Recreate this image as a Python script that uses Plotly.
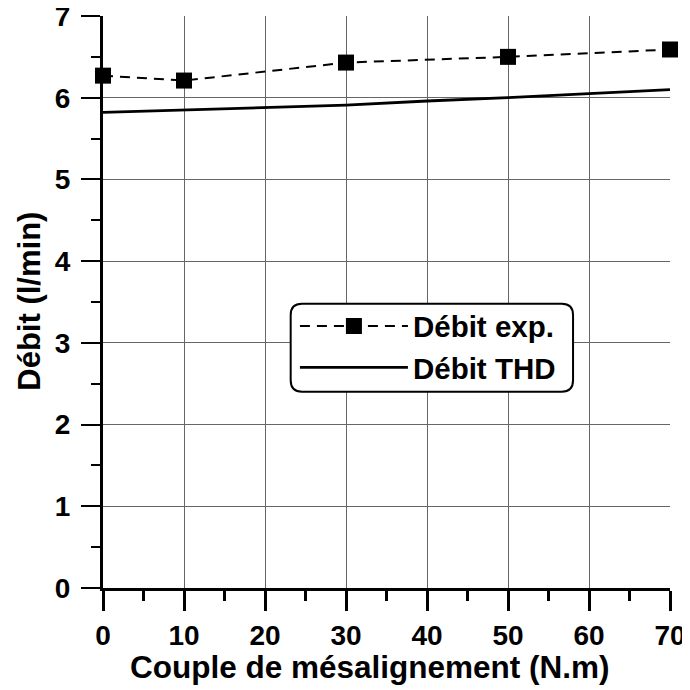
import plotly.graph_objects as go

couple = [0, 10, 30, 50, 70]
debit_exp = [6.27, 6.21, 6.43, 6.50, 6.59]
couple_thd = [0, 10, 20, 30, 40, 50, 60, 70]
debit_thd = [5.82, 5.85, 5.88, 5.91, 5.96, 6.00, 6.05, 6.10]
x_ticks = [0, 10, 20, 30, 40, 50, 60, 70]
y_ticks = [0, 1, 2, 3, 4, 5, 6, 7]

FONT = "Liberation Sans, Arial, sans-serif"

fig = go.Figure()
fig.add_trace(go.Scatter(
    x=couple, y=debit_exp, name="Débit exp.", mode="lines+markers",
    line=dict(color="black", width=2, dash="10px,7px"),
    marker=dict(symbol="square", size=16, color="black"),
    cliponaxis=False))
fig.add_trace(go.Scatter(
    x=couple_thd, y=debit_thd, name="Débit THD", mode="lines",
    line=dict(color="black", width=2.8), cliponaxis=False))

# rounded legend box
x0, x1, y0, y1 = 0.331, 0.829, 0.343, 0.497
rx, ry = 0.02, 0.02
path = (f"M {x0+rx},{y0} L {x1-rx},{y0} Q {x1},{y0} {x1},{y0+ry} "
        f"L {x1},{y1-ry} Q {x1},{y1} {x1-rx},{y1} L {x0+rx},{y1} "
        f"Q {x0},{y1} {x0},{y1-ry} L {x0},{y0+ry} Q {x0},{y0} {x0+rx},{y0} Z")
fig.add_shape(type="path", path=path, xref="paper", yref="paper",
              line=dict(color="black", width=2), fillcolor="white", layer="above")

fig.add_annotation(text="Couple de mésalignement (N.m)", xref="paper", yref="paper",
                   x=0.471, y=-0.138, showarrow=False, xanchor="center", yanchor="middle",
                   font=dict(size=31.5, family=FONT, color="black", weight="bold"))
fig.add_annotation(text="Débit (l/min)", xref="paper", yref="paper",
                   x=-0.129, y=0.502, showarrow=False, textangle=-90,
                   xanchor="center", yanchor="middle",
                   font=dict(size=31, family=FONT, color="black", weight="bold"))

fig.update_layout(
    width=690, height=690,
    margin=dict(l=95, r=28, t=8, b=110),
    plot_bgcolor="white", paper_bgcolor="white",
    font=dict(family=FONT, color="black"),
    showlegend=True,
    legend=dict(x=0.3385, y=0.503, xanchor="left", yanchor="top",
                bgcolor="rgba(0,0,0,0)", borderwidth=0,
                font=dict(size=29.5, family=FONT, color="black", weight="bold"),
                itemwidth=108, tracegroupgap=0),
    xaxis=dict(range=[0, 70], tickvals=x_ticks, ticks="outside", ticklen=20, tickwidth=3,
               tickcolor="black", showline=True, linecolor="black", linewidth=3,
               showgrid=True, gridcolor="#666666", gridwidth=1, zeroline=False, automargin=False,
               ticklabeloverflow="allow",
               tickfont=dict(size=28, family=FONT, weight="bold"), ticklabelstandoff=0,
               minor=dict(dtick=5, ticks="outside", ticklen=10, tickwidth=3, tickcolor="black", showgrid=False)),
    yaxis=dict(range=[0, 7], tickvals=y_ticks, ticks="outside", ticklen=19, tickwidth=2,
               tickcolor="black", showline=True, linecolor="black", linewidth=3,
               showgrid=True, gridcolor="#666666", gridwidth=1, zeroline=False, automargin=False,
               ticklabeloverflow="allow",
               tickfont=dict(size=28, family=FONT, weight="bold"), ticklabelstandoff=5,
               minor=dict(dtick=0.5, ticks="outside", ticklen=9, tickwidth=2, tickcolor="black", showgrid=False)),
)

fig.write_html("out.html")
